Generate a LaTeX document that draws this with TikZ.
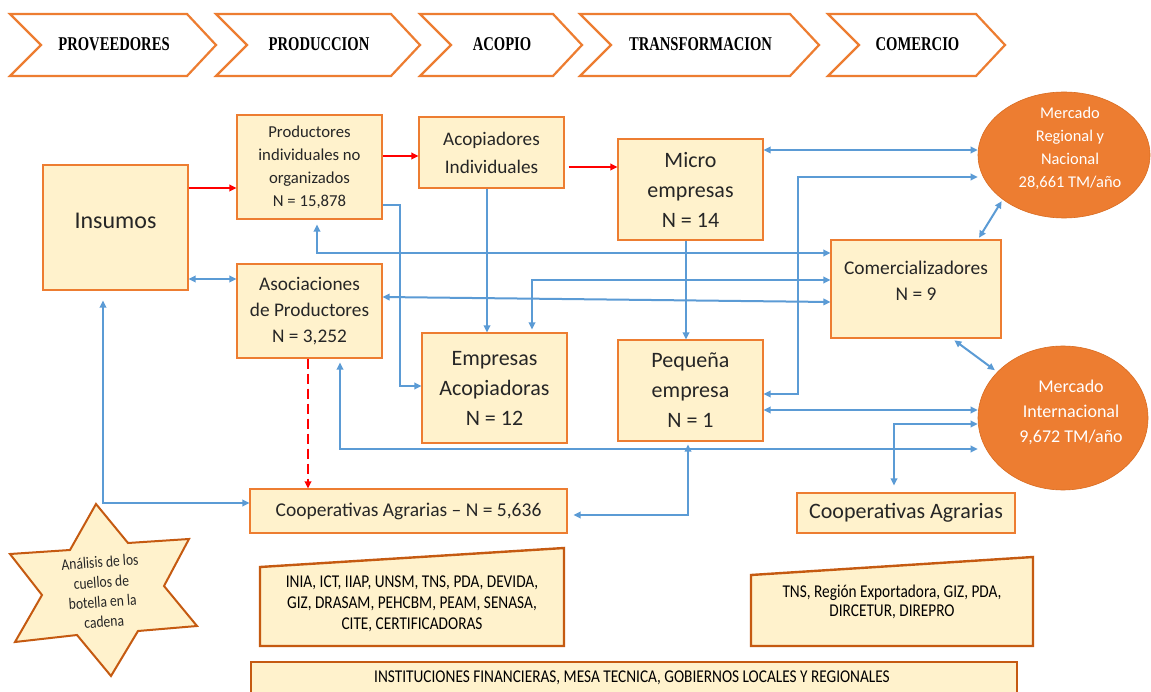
\documentclass[tikz,border=0pt]{standalone}
\usepackage{fontspec}
\setmainfont{Carlito}
\newfontfamily\condfont[FakeStretch=0.85]{Carlito}
\newfontfamily\chevfont[FakeStretch=0.75]{Liberation Serif}
\usetikzlibrary{arrows.meta,shapes.geometric}

\definecolor{boxfill}{HTML}{FFF2CC}
\definecolor{boxline}{HTML}{ED7D31}
\definecolor{darkline}{HTML}{C55A11}
\definecolor{flowblue}{HTML}{5B9BD5}
\definecolor{textdark}{HTML}{262626}

\tikzset{
  stagebox/.style={draw=boxline, fill=boxfill, line width=1.1pt, align=center,
    inner sep=0pt, text=textdark},
  plaintext/.style={align=center, inner sep=0pt, text=textdark},
  market/.style={ellipse, draw=darkline!50!boxline, fill=boxline, line width=0.6pt, inner sep=0pt},
  markettext/.style={align=center, inner sep=0pt, text=white},
  chev/.style={draw=boxline, line width=2.2pt, fill=white, line join=miter},
  chevtext/.style={inner sep=0pt, font=\chevfont\bfseries\fontsize{19.5}{22}\selectfont, text=black},
  agency/.style={draw=darkline, fill=boxfill, line width=2.4pt, line join=miter},
  agencytext/.style={align=center, inner sep=0pt, text=black, font=\condfont\fontsize{18}{21}\selectfont},
  flow/.style={draw=flowblue, line width=2pt, -{Triangle[length=7pt,width=6.5pt]}},
  flowboth/.style={draw=flowblue, line width=2pt,
    {Triangle[length=7pt,width=6.5pt]}-{Triangle[length=7pt,width=6.5pt]}},
  redflow/.style={draw=red, line width=2pt, -{Triangle[length=7pt,width=6.5pt]}},
}

\begin{document}
\begin{tikzpicture}[x=1pt,y=-1pt]
\useasboundingbox (0,0) rectangle (1151,692);
\clip (0,0) rectangle (1151,692);
\fill[white] (0,0) rectangle (1151,692);

% value chain stages
\foreach \l/\r/\lab/\n in {10/187/PROVEEDORES/c1, 216/391/PRODUCCION/c2,
    420/553/ACOPIO/c3, 580/790/TRANSFORMACION/c4, 828/976/COMERCIO/c5}{
  \draw[chev] (\l,14) -- (\r,14) -- (\r+29,45) -- (\r,76) -- (\l,76) -- (\l+31,45) -- cycle;
  \node[chevtext] (\n) at ({(\l+31+\r)/2},44) {\lab};
}

% actors
\node[stagebox, minimum width=145pt, minimum height=125pt] (ins) at (115.5,227.5) {};
\node[plaintext, font=\fontsize{24}{29}\selectfont] (instxt) at (115.5,221) {Insumos};

\node[stagebox, minimum width=145pt, minimum height=104pt,
  font=\fontsize{16.7}{23}\selectfont] (pin) at (309.5,167)
  {Productores\\individuales no\\organizados\\N = 15,878};

\node[stagebox, minimum width=145pt, minimum height=94pt,
  font=\fontsize{19.3}{26}\selectfont] (aso) at (309.5,311)
  {Asociaciones\\de Productores\\N = 3,252};

\node[stagebox, minimum width=145pt, minimum height=71pt,
  font=\fontsize{19.2}{28}\selectfont] (aci) at (491.5,152.5)
  {Acopiadores\\Individuales};

\node[stagebox, minimum width=145pt, minimum height=101pt,
  font=\fontsize{22}{30}\selectfont] (mic) at (690.5,189.5)
  {Micro\\empresas\\N = 14};

\node[stagebox, minimum width=145pt, minimum height=110pt,
  font=\fontsize{22}{30}\selectfont] (eac) at (494.5,388)
  {Empresas\\Acopiadoras\\N = 12};

\node[stagebox, minimum width=145pt, minimum height=101pt,
  font=\fontsize{22}{30}\selectfont] (peq) at (690.5,390.5)
  {Pequeña\\empresa\\N = 1};

\node[stagebox, minimum width=170pt, minimum height=98pt] (com) at (916,289) {};
\node[plaintext, font=\fontsize{19.4}{26}\selectfont] (comtxt) at (916,281)
  {Comercializadores\\N = 9};

\node[stagebox, minimum width=317pt, minimum height=44pt,
  font=\fontsize{19.5}{24}\selectfont] (coo) at (408.5,511)
  {Cooperativas Agrarias -- N = 5,636};

\node[stagebox, minimum width=218pt, minimum height=40pt,
  font=\fontsize{22}{26}\selectfont] (coo2) at (906,513)
  {Cooperativas Agrarias};

% markets
\node[market, minimum width=172pt, minimum height=126pt] (mrn) at (1064,155) {};
\node[markettext, font=\fontsize{16.4}{23}\selectfont] (mrntxt) at (1070,148)
  {Mercado\\Regional y\\Nacional\\28,661 TM/año};

\node[market, minimum width=170pt, minimum height=144pt] (mint) at (1063,418) {};
\node[markettext, font=\fontsize{18}{25}\selectfont] (minttxt) at (1071,412)
  {Mercado\\Internacional\\9,672 TM/año};

% product flows (red)
\draw[redflow] (ins.east |- 0,188) -- (pin.west |- 0,188);
\draw[redflow] (pin.east |- 0,156) -- (aci.west |- 0,156);
\draw[redflow, shorten <=4pt] (aci.east |- 0,167) -- (mic.west |- 0,167);
\draw[redflow, dash pattern=on 10pt off 5pt] (aso.south -| 308,0) -- (coo.north -| 308,0);

% relations (blue)
\draw[flowboth] (ins.east |- 0,279) -- (aso.west |- 0,279);
\draw[flow] (pin.east |- 0,205) -| (400,386) -- (eac.west |- 0,386);
\draw[flow] (aci.south -| 487,0) -- (eac.north -| 487,0);
\draw[flow] (mic.south -| 686,0) -- (peq.north -| 686,0);
\draw[flowboth] (mic.east |- 0,150) -- (mrn.west |- 0,150);
\draw[flowboth] (peq.east |- 0,394) -| (798,177) -- (mrn.west |- 0,177);
\draw[flowboth, shorten <=5pt] (pin.south -| 317,0) |- (com.west |- 0,253);
\draw[flowboth, shorten <=3pt] (eac.north -| 532,0) |- (com.west |- 0,280);
\draw[flowboth] (aso.east |- 0,297) -- (com.west |- 0,302);
\draw[flowboth, shorten <=2pt, shorten >=2pt] (com.north -| 978,0) -- (mrn.216);
\draw[flowboth, shorten <=3pt, shorten >=3pt] (com.south -| 952,0) -- (mint.145);
\draw[flowboth] (peq.east |- 0,410) -- (mint.west |- 0,410);
\draw[flowboth, shorten <=7pt] (coo2.north -| 894,0) |- (mint.west |- 0,424);
\draw[flowboth, shorten <=4pt] (aso.south -| 340,0) |- (mint.west |- 0,449);
\draw[flowboth, shorten <=3pt, shorten >=6pt] (peq.south -| 688,0) |- (coo.east |- 0,515);
\draw[flowboth, shorten >=10pt] (coo.west |- 0,503) -| (ins.south -| 103,0);

% bottleneck star
\draw[draw=darkline, fill=boxfill, line width=2pt, line join=miter]
  (96,504) -- (128,543) -- (189,539) -- (164,586) -- (197,626) -- (138,631)
  -- (111,676) -- (77,635) -- (15,642) -- (42,595) -- (10,554) -- (70,550) -- cycle;
\node[align=center, inner sep=0pt, text=textdark, rotate=4,
  font=\condfont\fontsize{16}{20}\selectfont] (startxt) at (102,592)
  {Análisis de los\\cuellos de\\botella en la\\cadena};

% supporting institutions
\draw[agency] (260,567) -- (564,548) -- (564,646) -- (260,646) -- cycle;
\node[agencytext] (inst1) at (412,604)
  {INIA, ICT, IIAP, UNSM, TNS, PDA, DEVIDA,\\GIZ, DRASAM, PEHCBM, PEAM, SENASA,\\CITE, CERTIFICADORAS};

\draw[agency] (751,575) -- (1033,557) -- (1033,646) -- (751,646) -- cycle;
\node[agencytext, font=\condfont\fontsize{18}{19.5}\selectfont] (inst2) at (892,602)
  {TNS, Región Exportadora, GIZ, PDA,\\DIRCETUR, DIREPRO};

\draw[agency] (251,662) rectangle (1017,705);
\node[agencytext] (inst3) at (632,678)
  {INSTITUCIONES FINANCIERAS, MESA TECNICA, GOBIERNOS LOCALES Y REGIONALES};
\end{tikzpicture}
\end{document}
